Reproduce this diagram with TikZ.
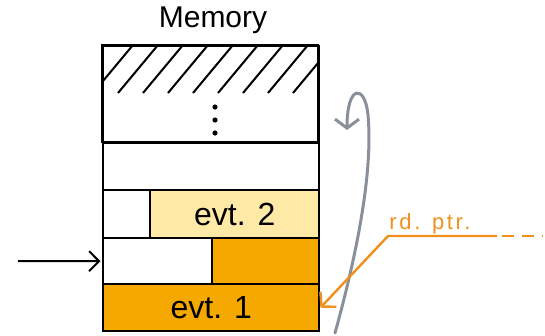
\documentclass[tikz,border=0pt]{standalone}
\usepackage{fontspec}
\setmainfont{Liberation Sans}
\usetikzlibrary{arrows.meta}
\definecolor{evtorange}{HTML}{F5A800}
\definecolor{evtyellow}{HTML}{FFE9A6}
\definecolor{ptrorange}{HTML}{F0901C}
\definecolor{loopgray}{HTML}{8A9099}
\begin{document}
\begin{tikzpicture}[x=1pt,y=-1pt,
  cell/.style={draw=black, line width=2.4pt, anchor=north west, inner sep=0pt,
    font=\fontsize{32}{36}\selectfont},
  hatchline/.style={black, line width=2pt},
]
\useasboundingbox (0,0) rectangle (545,335);
% title
\node[inner sep=0pt, font=\fontsize{30}{34}\selectfont] (title) at (213,20) {Memory};
% memory cells
\node[cell, minimum width=216pt, minimum height=97pt] (top) at (102,45) {};
\begin{scope}
  \clip (102,45) rectangle (318,93);
  \foreach \k in {0,...,8} {
    \draw[hatchline] ({93+25*\k},93) -- ({133+25*\k},45);
  }
\end{scope}
\draw[line width=2.4pt] (102,45) rectangle (318,142);
\foreach \yy in {107,120,133} { \fill (215,\yy) circle (2.6pt); }
\node[cell, minimum width=216pt, minimum height=47pt] (r2) at (102,142) {};
\node[cell, minimum width=47pt, minimum height=48pt] (r3a) at (102,189) {};
\node[cell, fill=evtyellow, minimum width=169pt, minimum height=48pt] (evt2) at (149,189) {evt. 2};
\node[cell, minimum width=109pt, minimum height=46pt] (r4a) at (102,237) {};
\node[cell, fill=evtorange, minimum width=107pt, minimum height=46pt] (r4b) at (211,237) {};
\node[cell, fill=evtorange, minimum width=216pt, minimum height=47pt] (evt1) at (102,283) {evt. 1};
% input arrow
\coordinate (in) at (18,261);
\draw[black, line width=2pt, -{Straight Barb[length=10pt,width=20pt]}, shorten >=1.5pt] (in) -- (r4a.west);
% gray loop arrow
\coordinate (loopstart) at (335,333);
\coordinate (loopend) at (347,130);
\draw[loopgray, line width=3pt, line cap=round, -{Straight Barb[length=9pt,width=24pt]}]
  (loopstart) .. controls (358,250) and (373,170) .. (368,115)
  .. controls (365,84) and (347,84) .. (loopend);
% read pointer
\coordinate (elbow) at (388,236);
\coordinate (solidend) at (497,236);
\coordinate (dashstart) at (502,236);
\coordinate (dashend) at (543,236);
\draw[ptrorange, line width=2.4pt, line join=round, -{Straight Barb[length=10pt,width=22pt]}]
  (solidend) -- (elbow) -- (evt1.east);
\draw[ptrorange, line width=2.4pt, dash pattern=on 12pt off 8pt] (dashstart) -- (dashend);
\node[ptrorange, font=\fontsize{22}{24}\selectfont\addfontfeature{LetterSpace=12}, anchor=base] (rdptr) at (430,229) {rd. ptr.};
\end{tikzpicture}
\end{document}
